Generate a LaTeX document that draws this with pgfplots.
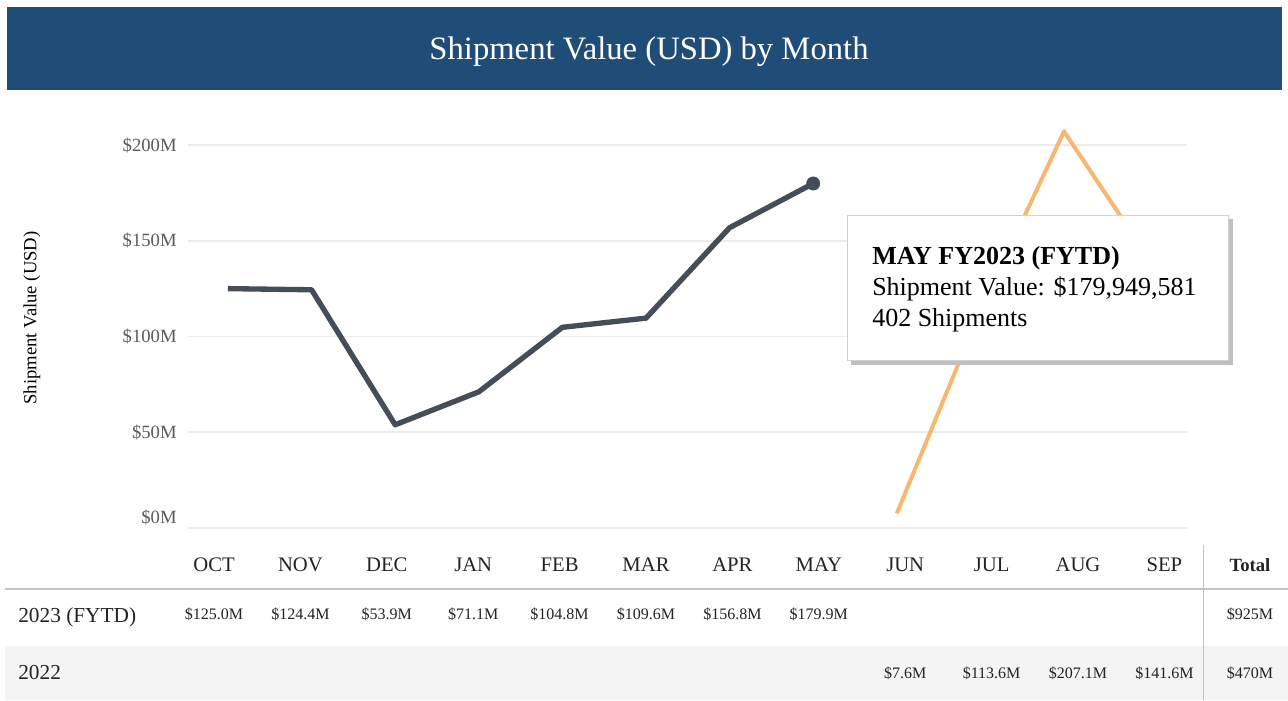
\documentclass[border=0pt]{standalone}
\usepackage{pgfplots}
\pgfplotsset{compat=1.18}
\usepackage{fontspec}
\setmainfont{Liberation Serif}
\definecolor{titlebg}{RGB}{31,77,120}
\definecolor{darkline}{RGB}{69,77,88}
\definecolor{orangeline}{RGB}{248,182,112}
\definecolor{gridc}{RGB}{236,236,236}
\definecolor{ticktext}{RGB}{90,90,90}
\definecolor{tabtext}{RGB}{35,35,35}
\definecolor{rowbg}{RGB}{244,244,244}
\definecolor{sepline}{RGB}{195,195,195}

\begin{document}
\begin{tikzpicture}
\begin{scope}[x=0.75pt,y=-0.75pt]
\fill[white] (0,0) rectangle (1288,700);
\path[use as bounding box] (0,0) rectangle (1288,700);
\fill[titlebg] (7,7) rectangle (1282,90);
\node[white, font=\fontsize{24.5}{29}\selectfont] at (649,52) {Shipment Value (USD) by Month};
\fill[rowbg] (5,646) rectangle (1288,700);
\draw[sepline, line width=1.5pt] (5,589) -- (1288,589);
\draw[sepline, line width=0.6pt] (1203,545) -- (1203,700);
\node[rotate=90, font=\fontsize{14}{16}\selectfont] at (32,318) {Shipment Value (USD)};
\foreach \i/\m in {0/OCT,1/NOV,2/DEC,3/JAN,4/FEB,5/MAR,6/APR,7/MAY,8/JUN,9/JUL,10/AUG,11/SEP}
  \node[text=tabtext, font=\fontsize{15.5}{18}\selectfont] at ({214+86.4*\i},565) {\m};
\node[text=tabtext, font=\fontsize{14}{16}\selectfont\bfseries] at (1250,565) {Total};
\node[anchor=west, inner sep=0pt, text=tabtext, font=\fontsize{16}{18}\selectfont] at (18,617) {2023 (FYTD)};
\node[anchor=west, inner sep=0pt, text=tabtext, font=\fontsize{16}{18}\selectfont] at (18,673) {2022};
\foreach \i/\v in {0/{\$125.0M},1/{\$124.4M},2/{\$53.9M},3/{\$71.1M},4/{\$104.8M},5/{\$109.6M},6/{\$156.8M},7/{\$179.9M}}
  \node[text=tabtext, font=\fontsize{12}{14}\selectfont] at ({214+86.4*\i},614) {\v};
\foreach \i/\v in {8/{\$7.6M},9/{\$113.6M},10/{\$207.1M},11/{\$141.6M}}
  \node[text=tabtext, font=\fontsize{12}{14}\selectfont] at ({214+86.4*\i},673) {\v};
\node[text=tabtext, font=\fontsize{12}{14}\selectfont] at (1250,614) {\$925M};
\node[text=tabtext, font=\fontsize{12}{14}\selectfont] at (1250,673) {\$470M};
\end{scope}

\begin{axis}[at={(141pt,-396pt)}, anchor=south west, scale only axis,
  width=749.25pt, height=287.25pt,
  xmin=-0.478, xmax=11.471, ymin=0, ymax=200, clip=false,
  axis line style={draw=none}, major tick length=0pt,
  xtick=\empty,
  ytick={50,100,150,200}, yticklabels={\$50M,\$100M,\$150M,\$200M},
  extra y ticks={0}, extra y tick labels={\$0M},
  extra y tick style={yticklabel style={yshift=8pt}, grid=major},
  ymajorgrids, grid style={gridc, line width=1.3pt},
  yticklabel style={font=\fontsize{14}{16}\selectfont, text=ticktext, xshift=-5pt}]
\addplot[orangeline, line width=3pt, line join=round] coordinates {(8,7.6)(9,113.6)(10,207.1)(11,141.6)};
\addplot[darkline, line width=4pt, line join=round] coordinates {(0,125.0)(1,124.4)(2,53.9)(3,71.1)(4,104.8)(5,109.6)(6,156.8)(7,179.9)};
\addplot[only marks, mark=*, mark size=5pt, darkline] coordinates {(7,179.9)};
\end{axis}

\begin{scope}[x=0.75pt,y=-0.75pt]
\fill[black!25] (851,219) rectangle (1233,365);
\filldraw[fill=white, draw=black!18, line width=0.75pt] (847,215) rectangle (1228,360);
\node[anchor=base west, inner sep=0pt, font=\fontsize{19.5}{23}\selectfont\bfseries] at (872,264) {MAY FY2023 (FYTD)};
\node[anchor=base west, inner sep=0pt, font=\fontsize{19.5}{23}\selectfont] at (872,295) {Shipment Value: \$179,949,581};
\node[anchor=base west, inner sep=0pt, font=\fontsize{19.5}{23}\selectfont] at (872,326) {402 Shipments};
\end{scope}
\end{tikzpicture}
\end{document}
